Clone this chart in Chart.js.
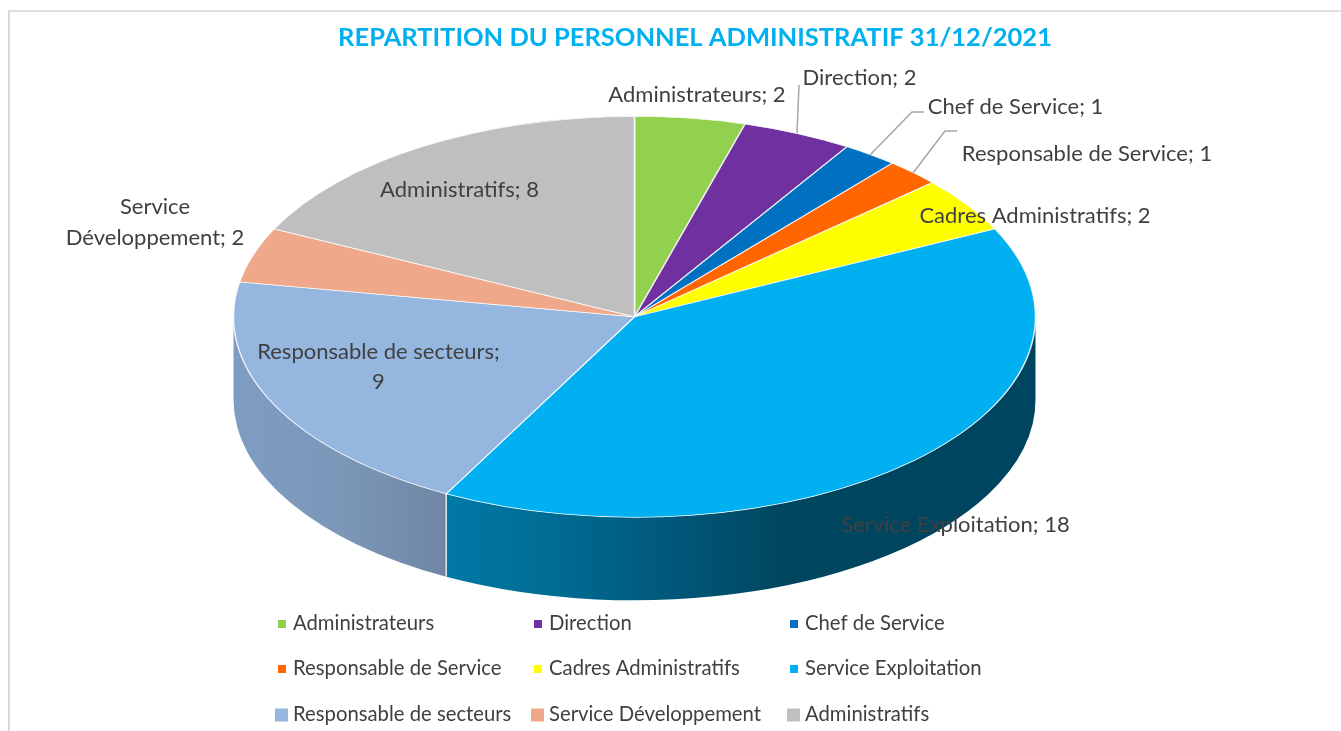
<!DOCTYPE html>
<html><head><meta charset="utf-8">
<style>html,body{margin:0;padding:0;background:#fff;overflow:hidden}canvas{display:block}
#frame{position:absolute;left:8px;top:10px;right:0;bottom:0;border-left:2px solid #d9d9d9;border-top:2px solid #e0e0e0;pointer-events:none}</style>
<script src="https://cdn.jsdelivr.net/npm/chart.js@4"></script>
</head><body>
<canvas id="c" width="1341" height="731"></canvas><div id="frame"></div>
<script>
const titleText = 'REPARTITION DU PERSONNEL ADMINISTRATIF 31/12/2021';
const categories = ['Administrateurs','Direction','Chef de Service','Responsable de Service','Cadres Administratifs','Service Exploitation','Responsable de secteurs','Service Développement','Administratifs'];
const values = [2,2,1,1,2,18,9,2,8];
const colors = ['#92D050','#7030A0','#0070C0','#FF6600','#FFFF00','#00B0F0','#95B6DF','#F0A88A','#BFBFBF'];
const font = 'Lato, Carlito, sans-serif';
const textColor = '#404040';
const depth = 83, squash = 0.5;

// label lines per slice: [text, centreX, middleY]
const labelLines = [
  [[`${categories[0]}; ${values[0]}`,697,95]],
  [[`${categories[1]}; ${values[1]}`,859.5,78]],
  [[`${categories[2]}; ${values[2]}`,1015.5,106.5]],
  [[`${categories[3]}; ${values[3]}`,1087,154]],
  [[`${categories[4]}; ${values[4]}`,1035,216]],
  [[`${categories[5]}; ${values[5]}`,955.5,525]],
  [[`${categories[6]};`,378.5,351.5],[`${values[6]}`,378.5,381.5]],
  [['Service',155,207],[`Développement; ${values[7]}`,155,238]],
  [[`${categories[8]}; ${values[8]}`,459.5,190]]
];
const leaders = [
  [[799,85],[797,133]],
  [[924,112],[912,112],[870,155]],
  [[957,131],[945,131],[913,173]]
];
const legendCols = [293,549,805];
const legendRows = [624,669,715];
const markerSizes = [8,8,13];

const sideGradients = {
  5:[[0,'#0079A6'],[0.2,'#006A91'],[0.38,'#00587A'],[0.58,'#00465F'],[1,'#00455F']],
  6:[[0,'#7F9CC2'],[0.5,'#7B98B9'],[1,'#6F86A3']]
};

const pie3d = {
  id:'pie3d',
  afterLayout(chart){
    const t = chart.titleBlock; t.left += 60.5; t.right += 60.5;
  },
  beforeDatasetsDraw(chart){
    const ctx = chart.ctx, arcs = chart.getDatasetMeta(0).data;
    const {x:cx,y:cy,outerRadius:rx} = arcs[0];
    const ry = rx*squash;
    arcs.forEach((arc,i)=>{
      const a0 = Math.max(arc.startAngle,0), a1 = Math.min(arc.endAngle,Math.PI);
      if(a1<=a0) return;
      const xl = cx+rx*Math.cos(a1), xr = cx+rx*Math.cos(a0);
      const g = ctx.createLinearGradient(xl,0,xr,0);
      (sideGradients[i]||[[0,colors[i]],[1,colors[i]]]).forEach(s=>g.addColorStop(s[0],s[1]));
      ctx.beginPath();
      ctx.ellipse(cx,cy,rx,ry,0,a0,a1);
      ctx.ellipse(cx,cy+depth,rx,ry,0,a1,a0,true);
      ctx.closePath();
      ctx.fillStyle = g; ctx.fill();
      if(a0>0){
        ctx.beginPath();
        ctx.moveTo(cx+rx*Math.cos(a0),cy+ry*Math.sin(a0));
        ctx.lineTo(cx+rx*Math.cos(a0),cy+ry*Math.sin(a0)+depth);
        ctx.strokeStyle='rgba(255,255,255,.8)'; ctx.lineWidth=1.5; ctx.stroke();
      }
    });
    ctx.save();
    ctx.translate(cx,cy); ctx.scale(1,squash); ctx.translate(-cx,-cy);
  },
  afterDatasetsDraw(chart){
    const ctx = chart.ctx;
    ctx.restore();
    ctx.save();
    ctx.strokeStyle='#a6a6a6'; ctx.lineWidth=1.5;
    leaders.forEach(p=>{
      ctx.beginPath();
      p.forEach((q,i)=> i?ctx.lineTo(q[0],q[1]):ctx.moveTo(q[0],q[1]));
      ctx.stroke();
    });
    ctx.font = `22px ${font}`; ctx.fillStyle=textColor;
    ctx.textBaseline='middle'; ctx.textAlign='center';
    labelLines.forEach(lines=>lines.forEach(l=>ctx.fillText(l[0],l[1],l[2])));
    ctx.font = `20.3px ${font}`;
    ctx.textAlign='left';
    categories.forEach((name,i)=>{
      const c = i%3, r = Math.floor(i/3), x = legendCols[c], y = legendRows[r], s = markerSizes[r];
      ctx.fillStyle = colors[i];
      ctx.fillRect(x-(r===2?18:15),y-s/2,s,s);
      ctx.fillStyle = textColor;
      ctx.fillText(name,x,y-0.5);
    });
    ctx.restore();
  }
};

new Chart(document.getElementById('c'),{
  type:'pie',
  data:{labels:categories,datasets:[{data:values,backgroundColor:colors,borderColor:'rgba(255,255,255,.85)',borderWidth:1.5,radius:401,clip:false}]},
  plugins:[pie3d],
  options:{
    responsive:false,animation:false,events:[],
    layout:{padding:{left:0,right:72,top:0,bottom:153}},
    plugins:{
      legend:{display:false},tooltip:{enabled:false},
      title:{display:true,text:titleText,color:'#00B0F0',font:{family:font,size:25.5,weight:'bold'},padding:{top:22,bottom:3}}
    }
  }
});
</script>
</body></html>
